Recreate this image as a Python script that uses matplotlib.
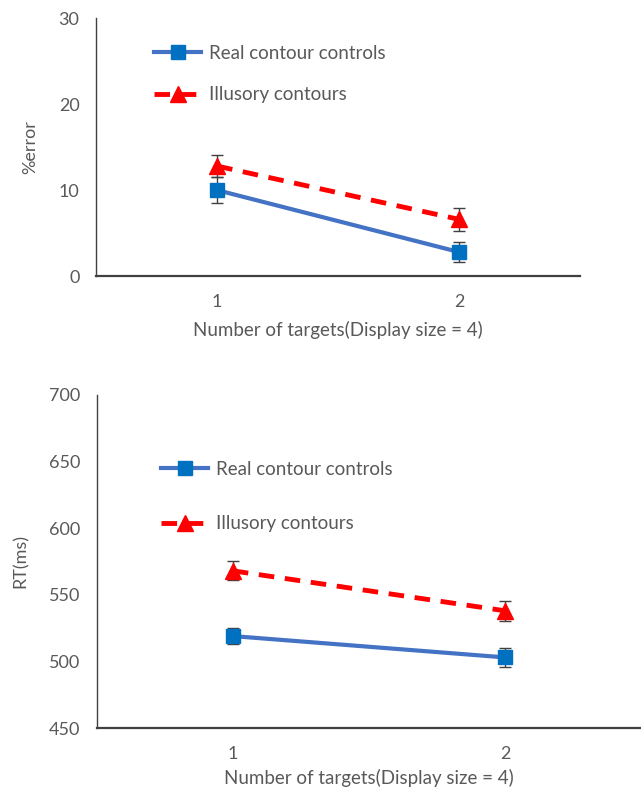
import matplotlib.pyplot as plt

# data
targets = [1, 2]

err_real = [10.0, 2.8]
err_real_se = [1.5, 1.2]
err_illusory = [12.8, 6.6]
err_illusory_se = [1.3, 1.3]

rt_real = [519, 503]
rt_real_se = [6, 7]
rt_illusory = [568, 538]
rt_illusory_se = [7, 7.5]

label_real = 'Real contour controls'
label_illusory = 'Illusory contours'
xlabel = 'Number of targets(Display size = 4)'

plt.rcParams['font.family'] = ['Lato', 'DejaVu Sans']
text_col = '#595959'
blue_line = '#4472C4'
blue_mark = '#0070C0'
red = '#FF0000'
err_col = '#404040'


def draw(ax, real, real_se, ill, ill_se, ylim, yticks, ylabel,
         legend_anchor, labelspacing, ylabelpad, xlabelpad):
    ax.errorbar(targets, real, yerr=real_se, fmt='none', ecolor=err_col,
                elinewidth=1, capsize=4, capthick=1, zorder=2)
    ax.errorbar(targets, ill, yerr=ill_se, fmt='none', ecolor=err_col,
                elinewidth=1, capsize=4, capthick=1, zorder=2)
    ax.plot(targets, real, color=blue_line, lw=3, marker='s', ms=10,
            mfc=blue_mark, mec=blue_mark, label=label_real, zorder=3)
    ax.plot(targets, ill, color=red, lw=3.5, ls=(0, (3.2, 2.2)), marker='^', ms=11,
            mfc=red, mec=red, label=label_illusory, zorder=3)

    ax.set_xlim(0.5, 2.5)
    ax.set_ylim(*ylim)
    ax.set_xticks(targets)
    ax.set_yticks(yticks)
    ax.tick_params(axis='both', length=0, labelsize=13, colors=text_col)
    ax.tick_params(axis='x', pad=13)
    ax.tick_params(axis='y', pad=12)
    for s in ['top', 'right']:
        ax.spines[s].set_visible(False)
    ax.spines['left'].set_color('#404040')
    ax.spines['left'].set_linewidth(1)
    ax.spines['bottom'].set_color('#404040')
    ax.spines['bottom'].set_linewidth(1.6)
    ax.set_xlabel(xlabel, fontsize=13.5, color=text_col, labelpad=xlabelpad)
    ax.set_ylabel(ylabel, fontsize=13, color=text_col, labelpad=ylabelpad)

    leg = ax.legend(loc='upper left', bbox_to_anchor=legend_anchor, frameon=False,
                    fontsize=13.5, handlelength=2.5, handletextpad=0.4,
                    labelspacing=labelspacing, borderaxespad=0)
    for t in leg.get_texts():
        t.set_color(text_col)


fig = plt.figure(figsize=(6.41, 7.89), dpi=100)

ax1 = fig.add_axes([0.150, 0.650, 0.755, 0.327])
draw(ax1, err_real, err_real_se, err_illusory, err_illusory_se,
     (0, 30), [0, 10, 20, 30], '%error', (0.105, 0.925), 1.3, 15, 8)

ax2 = fig.add_axes([0.151, 0.0773, 0.849, 0.4221])
draw(ax2, rt_real, rt_real_se, rt_illusory, rt_illusory_se,
     (450, 700), [450, 500, 550, 600, 650, 700], 'RT(ms)',
     (0.105, 0.825), 2.0, 14, 5)

fig.savefig('out.png', dpi=100)
